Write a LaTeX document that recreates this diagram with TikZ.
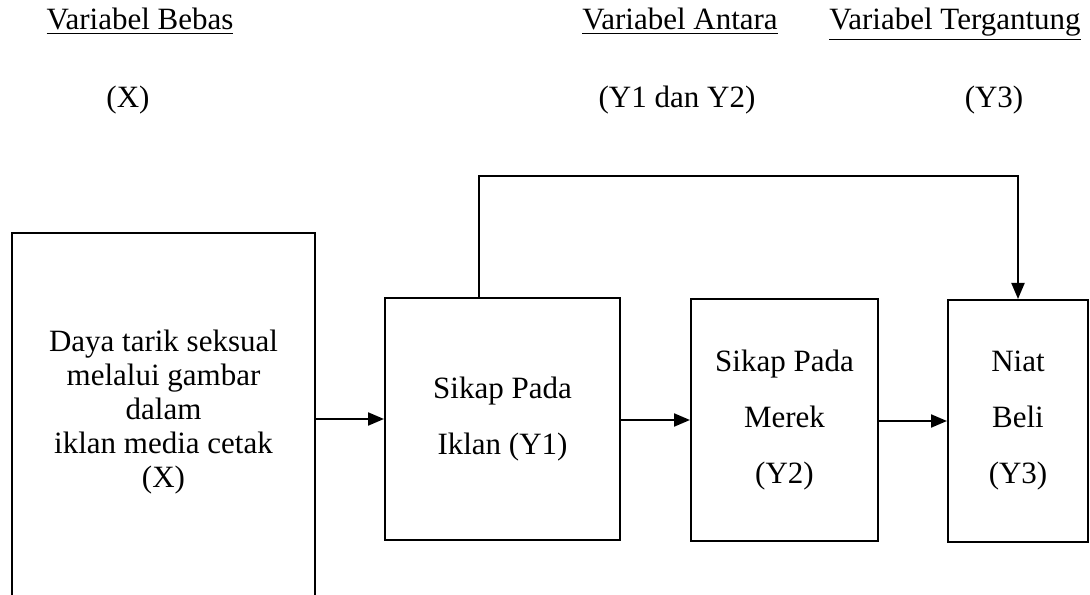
\documentclass[tikz,border=0pt]{standalone}
\usepackage{fontspec}
\setmainfont{Liberation Serif}
\usetikzlibrary{arrows.meta, calc}
\tikzset{
  % plain rectangles that hold the variables
  varbox/.style={
    draw=black, line width=1pt, inner sep=0pt, align=center,
    font=\fontsize{15.5}{28}\selectfont
  },
  % arrows
  flow/.style={-{Triangle[length=8pt,width=6.5pt]}, draw=black, line width=1pt},
  % headings above the columns
  heading/.style={font=\fontsize{15.5}{18}\selectfont, anchor=base, inner sep=0pt},
}

\begin{document}
\begin{tikzpicture}[x=0.5pt, y=0.5pt]
\useasboundingbox (0,0) rectangle (1090,594);
\clip (0,0) rectangle (1090,594);
\fill[white] (0,0) rectangle (1090,594);

% ===========================================================================
% HEADINGS
% ===========================================================================
\node[heading] (h_bebas)   at (140,564) {\underline{Variabel Bebas}};
\node[heading] (h_antara)  at (680,564) {\underline{Variabel Antara}};
\node[heading] (h_tergant) at (955,564) {\underline{Variabel Tergantung}};

\node[heading] (s_bebas)   at (128,486) {(X)};
\node[heading] (s_antara)  at (677,486) {(Y1 dan Y2)};
\node[heading] (s_tergant) at (994,486) {(Y3)};

% ===========================================================================
% BOXES
% ===========================================================================
% the left box runs past the lower edge of the page
\node[varbox, minimum width=151.5pt, minimum height=200.5pt] (X) at (163.5,160.5) {};
\node[align=center, inner sep=0pt, font=\fontsize{15.5}{17}\selectfont] (X_text) at (163.5,182)
      {Daya tarik seksual\\ melalui gambar\\ dalam\\ iklan media cetak\\ (X)};

\node[varbox, minimum width=117.5pt, minimum height=121pt] (Y1) at (502.5,175)
      {Sikap Pada\\ Iklan (Y1)};
\node[varbox, minimum width=93.5pt, minimum height=121pt] (Y2) at (784.5,174)
      {Sikap Pada\\ Merek\\ (Y2)};
\node[varbox, minimum width=70pt, minimum height=121pt] (Y3) at (1018,173)
      {Niat\\ Beli\\ (Y3)};

% ===========================================================================
% ARROWS
% ===========================================================================
\draw[flow] (X.east |- Y1.west) -- (Y1.west);
\draw[flow] (Y1.east |- Y2.west) -- (Y2.west);
\draw[flow] (Y2.east |- Y3.west) -- (Y3.west);

% feedback line over the top, from Y1 straight to Y3
\coordinate (fb_start) at ($(Y1.north west)+(95,0)$);
\coordinate (fb_top) at ($(fb_start)+(0,121)$);
\draw[flow] (fb_start) -- (fb_top) -| (Y3.north);

\end{tikzpicture}
\end{document}
